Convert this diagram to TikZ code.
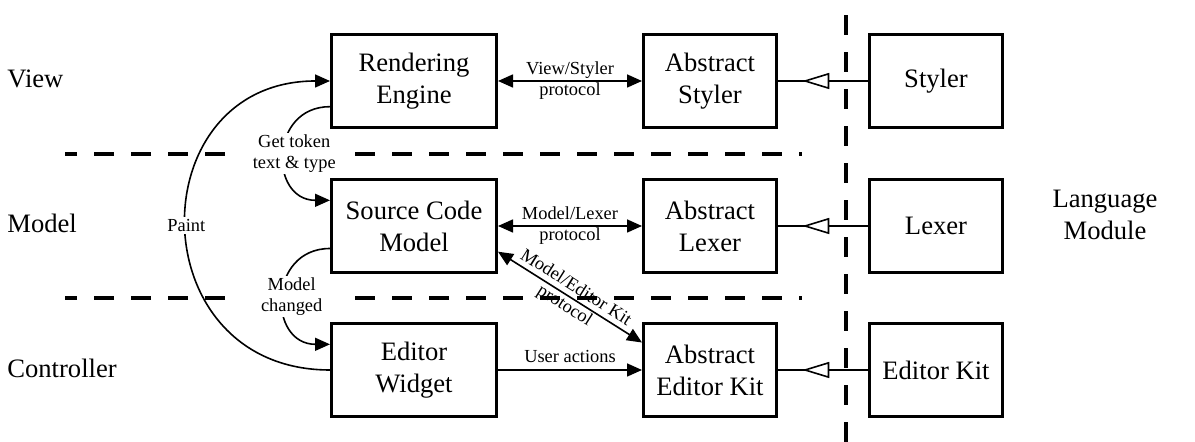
\documentclass[tikz,border=0pt]{standalone}
\usepackage{fontspec}
\setmainfont{Liberation Serif}
\usetikzlibrary{arrows.meta, positioning, decorations.markings}

\begin{document}
\begin{tikzpicture}[
  x=0.5pt, y=0.5pt,
  every node/.style = {
    align=center,
    font=\fontsize{13.3}{16}\selectfont
  },
  block/.style = {draw, line width=1.3pt, minimum width=82.7pt, minimum height=46.7pt, inner sep=2pt},
  absblock/.style = {block, minimum width=66.7pt},
  rowlabel/.style = {anchor=west, inner sep=0pt},
  note/.style = {font=\fontsize{9.2}{10.5}\selectfont, inner sep=1pt},
  arrow/.style = {-{Triangle[length=7.5pt, width=6.5pt]}, line width=0.8pt},
  twoway/.style = {{Triangle[length=7.5pt, width=6.5pt]}-{Triangle[length=7.5pt, width=6.5pt]}, line width=0.8pt},
  inherit/.style = {line width=0.8pt, postaction={decorate},
    decoration={markings, mark=at position 0.73 with {\arrow{Triangle[open, fill=white, length=13.5pt, width=8pt]}}}},
  layer/.style = {line width=1.6pt, dash pattern=on 10pt off 8.5pt}
]
\useasboundingbox (0,0) rectangle (1195,-442);

% Layer separators (drawn first)
\draw[layer] (225,-154) -- (65,-154);
\draw[layer] (355,-154) -- (802,-154);
\draw[layer] (225,-298) -- (65,-298);
\draw[layer] (355,-298) -- (802,-298);
\draw[layer] (846,-442) -- (846,-9);

% Row labels
\node[rowlabel] (view) at (7,-79) {View};
\node[rowlabel] (model) at (7,-223) {Model};
\node[rowlabel] (controller) at (7,-368) {Controller};
\node (langmod) at (1105,-215) {Language\\Module};

% Row 1: View
\node[block] (render) at (414,-81) {Rendering\\Engine};
\node[absblock] (astyler) at (710,-81) {Abstract\\Styler};
\node[absblock] (styler) at (936,-81) {Styler};

% Row 2: Model
\node[block] (srcmodel) at (414,-226) {Source Code\\Model};
\node[absblock] (alexer) at (710,-226) {Abstract\\Lexer};
\node[absblock] (lexer) at (936,-226) {Lexer};

% Row 3: Controller
\node[block] (widget) at (414,-370) {Editor\\Widget};
\node[absblock] (akit) at (710,-370) {Abstract\\Editor Kit};
\node[absblock] (kit) at (936,-370) {Editor Kit};

% === ARROWS ===

% Protocols
\draw[twoway] (render) -- node[note] (vsproto) {View/Styler\\protocol} (astyler);
\draw[twoway] (srcmodel) -- node[note] (mlproto) {Model/Lexer\\protocol} (alexer);
\draw[twoway] (srcmodel.-17) -- node[note, sloped] (mkproto) {Model/Editor Kit\\protocol} (akit.158);
\draw[arrow] (widget) -- node[note, above=2.5pt] (actions) {User actions} (akit);

% Language module implements the abstract parts
\draw[inherit] (styler) -- (astyler);
\draw[inherit] (lexer) -- (alexer);
\draw[inherit] (kit) -- (akit);

% MVC loop on the left
\draw[arrow] (widget.west) to[out=180, in=180, looseness=1.7]
  node[note, fill=white] (paint) {Paint} (render.west);
\draw[arrow] (render.197) to[out=180, in=180, looseness=1.67]
  node[note, fill=white, xshift=5pt] (gettoken) {Get token\\text \& type} (srcmodel.163);
\draw[arrow] (srcmodel.195) to[out=180, in=180, looseness=1.67]
  node[note, fill=white, xshift=4.25pt] (changed) {Model\\changed} (widget.163);

\end{tikzpicture}
\end{document}
